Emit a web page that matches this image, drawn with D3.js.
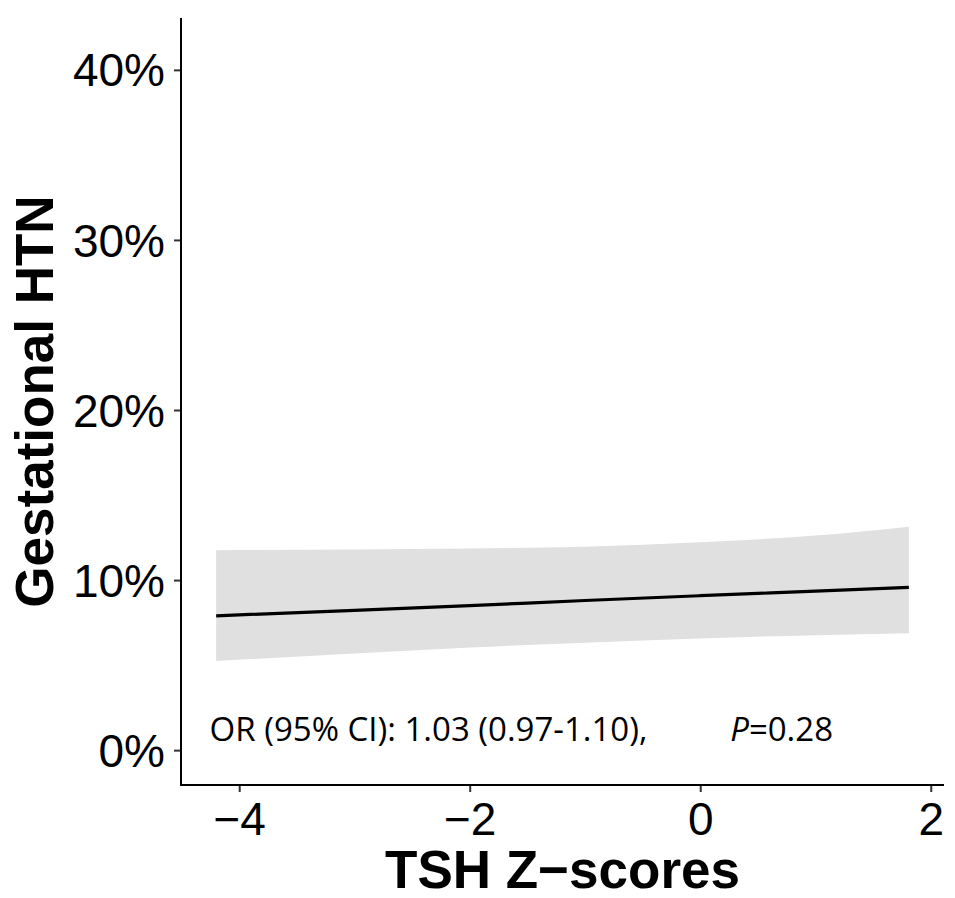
<!DOCTYPE html>
<html>
<head>
<meta charset="utf-8">
<script src="https://cdn.jsdelivr.net/npm/d3@7"></script>
<style>
  body { margin: 0; background: #fff; }
  svg { display: block; }
</style>
</head>
<body>
<div id="chart"></div>
<script>
// fitted curve + 95% band
const zScores = [-4.2, -3, -2, -1, 0, 1, 1.81];
const fitValues = [0.0790, 0.0822, 0.0850, 0.0880, 0.0908, 0.0935, 0.0957];
const upperValues = [0.1176, 0.1180, 0.1186, 0.1196, 0.1222, 0.1262, 0.1314];
const lowerValues = [0.0524, 0.0568, 0.0603, 0.0632, 0.0657, 0.0676, 0.0688];

const xTicks = [-4, -2, 0, 2];
const yTicks = [0, 0.1, 0.2, 0.3, 0.4];

const xTitle = "TSH Z\u2212scores";
const yTitle = "Gestational HTN";
const orLabel = "OR (95% CI): 1.03 (0.97-1.10),";
const pLabel = "0.28";

const chart = {
    width: 955,
    height: 898,
    margin: {top: 18, right: 11, bottom: 113, left: 181}
};
chart.innerWidth = chart.width - chart.margin.left - chart.margin.right;
chart.innerHeight = chart.height - chart.margin.top - chart.margin.bottom;

const rows = zScores.map((z, i) => ({
    z: z,
    fit: fitValues[i],
    upper: upperValues[i],
    lower: lowerValues[i]
}));

const svg = d3.select("#chart")
    .append("svg")
    .attr("width", chart.width)
    .attr("height", chart.height);

const g = svg.append("g")
    .attr("transform", `translate(${chart.margin.left}, ${chart.margin.top})`);

const x = d3.scaleLinear()
    .domain([-4.505, 2.115])
    .range([0, chart.innerWidth]);

const y = d3.scaleLinear()
    .domain([-0.0205, 0.4305])
    .range([chart.innerHeight, 0]);

// confidence band
const band = d3.area()
    .x(d => x(d.z))
    .y0(d => y(d.lower))
    .y1(d => y(d.upper))
    .curve(d3.curveMonotoneX);

g.append("path")
    .datum(rows)
    .attr("d", band)
    .attr("fill", "#e0e0e0");

// fitted line
const line = d3.line()
    .x(d => x(d.z))
    .y(d => y(d.fit))
    .curve(d3.curveMonotoneX);

g.append("path")
    .datum(rows)
    .attr("d", line)
    .attr("fill", "none")
    .attr("stroke", "#000")
    .attr("stroke-width", 3.2);

// axes
const xAxis = g.append("g")
    .attr("transform", `translate(0, ${chart.innerHeight})`)
    .call(d3.axisBottom(x).tickValues(xTicks).tickSize(7).tickPadding(10)
        .tickFormat(d => d < 0 ? "\u2212" + Math.abs(d) : d));

const yAxis = g.append("g")
    .call(d3.axisLeft(y).tickValues(yTicks).tickSize(7).tickPadding(9)
        .tickFormat(d3.format(".0%")));

[xAxis, yAxis].forEach(ax => {
    ax.select(".domain").remove();
    ax.selectAll(".tick line").attr("stroke", "#333").attr("stroke-width", 2);
    ax.selectAll(".tick text")
        .attr("fill", "#000")
        .style("font-family", "'Liberation Sans', Arial, sans-serif")
        .style("font-size", "46px");
});

xAxis.selectAll(".tick text").attr("dy", "0.71em");
yAxis.selectAll(".tick text").attr("dy", "0.35em");

// axis lines (L-shaped, classic theme)
g.append("line")
    .attr("x1", 0).attr("x2", 0)
    .attr("y1", 0).attr("y2", chart.innerHeight + 1)
    .attr("stroke", "#000").attr("stroke-width", 2);

g.append("line")
    .attr("x1", -1).attr("x2", chart.innerWidth)
    .attr("y1", chart.innerHeight).attr("y2", chart.innerHeight)
    .attr("stroke", "#000").attr("stroke-width", 2);

// annotation
g.append("text")
    .attr("x", x(-4.257))
    .attr("y", y(0.0053))
    .style("font-family", "'Open Sans', sans-serif")
    .style("font-size", "33px")
    .attr("fill", "#000")
    .text(orLabel);

const pText = g.append("text")
    .attr("x", x(0.26))
    .attr("y", y(0.0053))
    .style("font-family", "'Open Sans', sans-serif")
    .style("font-size", "33px")
    .attr("fill", "#000");
pText.append("tspan").style("font-style", "italic").text("P");
pText.append("tspan").text("=" + pLabel);

// titles
svg.append("text")
    .attr("x", chart.margin.left + chart.innerWidth / 2)
    .attr("y", 888)
    .attr("text-anchor", "middle")
    .style("font-family", "'Liberation Sans', Arial, sans-serif")
    .style("font-weight", "bold")
    .style("font-size", "53px")
    .text(xTitle);

svg.append("text")
    .attr("transform", `translate(53, ${chart.margin.top + chart.innerHeight / 2}) rotate(-90)`)
    .attr("text-anchor", "middle")
    .style("font-family", "'Liberation Sans', Arial, sans-serif")
    .style("font-weight", "bold")
    .style("font-size", "53px")
    .text(yTitle);
</script>
</body>
</html>
